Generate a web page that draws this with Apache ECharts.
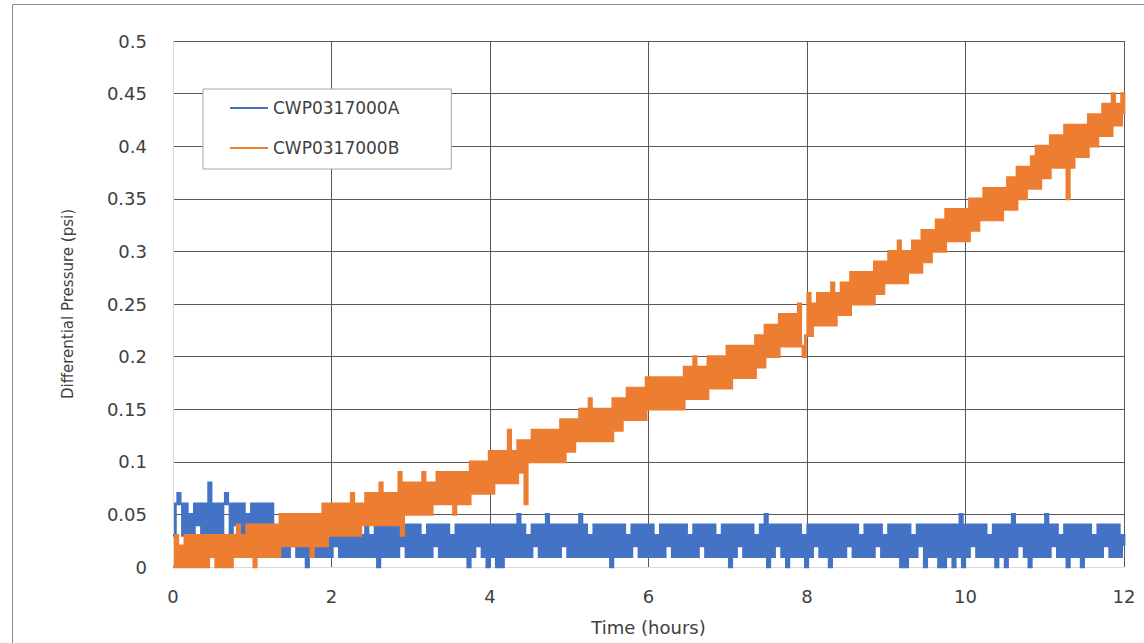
<!DOCTYPE html>
<html>
<head>
<meta charset="utf-8">
<script src="https://cdn.jsdelivr.net/npm/echarts@6/dist/echarts.min.js"></script>
<style>
html,body{margin:0;padding:0;background:#fff;}
#chart{width:1144px;height:643px;}
</style>
</head>
<body>
<div id="chart"></div>
<script>
// ---- data ----
const seriesNames = ['CWP0317000A', 'CWP0317000B'];
const sampleIntervalHours = 0.03;   // one reading every 1.8 min, 0..12 h
const xTicks = [0, 2, 4, 6, 8, 10, 12];
const yTicks = [0, 0.05, 0.1, 0.15, 0.2, 0.25, 0.3, 0.35, 0.4, 0.45, 0.5];

// Differential pressure (psi), CWP0317000A  (20 readings per row = 0.6 h)
const valuesA = [
.03,.06,.07,.06,.03,.06,.03,.05,.03,.06,.04,.06,.03,.06,.03,.08,.03,.06,.03,.06,
.03,.06,.07,.06,.03,.06,.04,.06,.03,.06,.03,.05,.03,.06,.03,.06,.04,.06,.03,.06,
.03,.06,.03,.03,.01,.03,.01,.03,.01,.03,.02,.03,.01,.03,.01,.03,0,.03,.01,.03,
.01,.03,.01,.03,.01,.04,.01,.03,.02,.03,.01,.03,.01,.04,.01,.03,.01,.04,.01,.03,
.01,.04,.01,.03,.01,.04,0,.04,.01,.04,.01,.04,.01,.05,.01,.04,.02,.04,.01,.04,
.01,.04,.01,.04,.01,.03,.01,.04,.01,.04,.02,.04,.01,.04,.01,.04,.01,.03,.01,.04,
.01,.04,.01,.04,0,.04,.01,.04,.02,.04,.01,.04,0,.04,.01,.04,0,.04,0,.04,
.01,.04,.01,.04,.01,.05,.01,.04,.01,.03,.01,.04,.02,.04,.01,.04,.01,.05,.01,.04,
.01,.04,.01,.04,.02,.04,.01,.04,.01,.04,.01,.05,.01,.04,.01,.03,.01,.04,.01,.04,
.01,.04,.01,.04,0,.04,.01,.04,.01,.04,.01,.03,.01,.04,.02,.04,.01,.04,.01,.04,
.01,.04,.01,.03,.01,.04,.01,.04,.02,.04,.01,.04,.01,.04,.01,.04,.01,.03,.01,.04,
.01,.04,.02,.04,.01,.04,.01,.04,.01,.03,.01,.04,.01,.04,0,.04,.01,.04,.02,.04,
.01,.04,.01,.04,.01,.03,.01,.04,.01,.05,0,.04,.01,.04,.02,.04,.01,.04,0,.04,
.01,.04,.01,.04,.01,.03,0,.04,.01,.04,.02,.04,.01,.04,.01,.04,0,.04,.01,.04,
.01,.04,.01,.04,.02,.04,.01,.04,.01,.03,.01,.04,.01,.04,.01,.04,.02,.04,.01,.03,
.01,.04,.01,.04,.01,.04,0,.04,0,.04,.01,.03,.01,.04,.02,.04,0,.04,.01,.04,
.01,.04,0,.04,0,.04,.01,.04,0,.04,.01,.05,0,.04,.01,.04,.02,.04,.01,.04,
.01,.04,.01,.03,.01,.04,0,.04,.01,.04,0,.04,.01,.05,.01,.04,.02,.04,.01,.04,
0,.04,.01,.04,.01,.04,.01,.05,.01,.04,.02,.04,.01,.03,.01,.04,0,.04,.01,.04,
.01,.04,0,.04,.01,.04,.01,.03,.01,.04,.01,.04,.02,.04,.01,.04,.01,.04,.01,.03,
.02
];

// Differential pressure (psi), CWP0317000B  (10 readings per row = 0.3 h)
const valuesB = [
0,.03,0,.02,0,.03,0,.03,0,.03,
0,.03,0,.03,0,.03,.01,.03,0,.03,
0,.03,0,.03,0,.03,.01,.04,.01,.03,
.01,.04,.01,.04,0,.04,.01,.04,.01,.04,
.01,.04,.01,.04,.01,.05,.02,.05,.02,.05,
.02,.05,.02,.05,.02,.05,.02,.05,.01,.05,
.02,.05,.02,.06,.02,.06,.03,.06,.03,.06,
.03,.06,.03,.06,.03,.07,.03,.06,.03,.06,
.04,.07,.04,.07,.04,.07,.04,.08,.04,.07,
.04,.07,.04,.07,.04,.09,.03,.08,.05,.08,
.05,.08,.05,.08,.05,.09,.05,.08,.05,.08,
.06,.09,.06,.09,.06,.09,.06,.09,.05,.09,
.06,.09,.06,.09,.06,.1,.07,.1,.07,.1,
.07,.1,.07,.11,.07,.11,.08,.11,.08,.11,
.08,.13,.08,.11,.08,.12,.09,.12,.06,.12,
.1,.13,.1,.13,.1,.13,.1,.13,.1,.13,
.1,.13,.1,.14,.1,.14,.11,.14,.11,.14,
.12,.15,.12,.15,.12,.16,.12,.15,.12,.15,
.12,.15,.12,.15,.12,.16,.13,.16,.13,.16,
.14,.17,.14,.17,.14,.17,.14,.17,.14,.18,
.15,.18,.15,.18,.15,.18,.15,.18,.15,.18,
.15,.18,.15,.18,.15,.19,.16,.19,.16,.2,
.16,.19,.16,.19,.16,.2,.17,.2,.17,.2,
.17,.2,.17,.21,.17,.21,.18,.21,.18,.21,
.18,.21,.18,.21,.18,.22,.19,.22,.19,.23,
.2,.23,.2,.23,.2,.24,.21,.24,.21,.24,
.21,.24,.21,.25,.21,.2,.22,.26,.22,.25,
.23,.26,.23,.26,.23,.26,.23,.27,.23,.26,
.24,.27,.24,.27,.24,.28,.25,.28,.25,.28,
.25,.28,.25,.28,.25,.29,.26,.29,.26,.29,
.27,.3,.27,.3,.27,.31,.27,.3,.27,.3,
.28,.31,.28,.31,.28,.32,.29,.32,.29,.32,
.3,.33,.3,.33,.3,.34,.31,.34,.31,.34,
.31,.34,.31,.34,.31,.35,.32,.35,.32,.35,
.33,.36,.33,.36,.33,.36,.33,.36,.33,.36,
.34,.37,.34,.37,.34,.38,.35,.38,.35,.38,
.36,.39,.36,.4,.36,.4,.37,.4,.37,.41,
.38,.41,.38,.41,.38,.42,.35,.42,.38,.42,
.39,.42,.39,.42,.39,.43,.4,.43,.4,.43,
.41,.44,.41,.44,.41,.45,.42,.44,.42,.45,
.43
];

// ---- build series data ----
function toPairs(vals) {
  return vals.map((v, i) => [+(i * sampleIntervalHours).toFixed(3), v]);
}

const FONT = 'DejaVu Sans';
const TXT = '#404040';
const GRID = '#595959';

const chart = echarts.init(document.getElementById('chart'), null, {renderer: 'svg'});
chart.setOption({
  animation: false,
  backgroundColor: '#ffffff',
  graphic: [{
    type: 'rect',
    shape: {x: 12.5, y: 4.5, width: 1200, height: 700},
    style: {fill: 'none', stroke: '#8c8c8c', lineWidth: 1},
    silent: true, z: -10
  }],
  grid: {left: 173, right: 20, top: 41, bottom: 76, containLabel: false},
  legend: {
    orient: 'vertical',
    left: 203, top: 89,
    data: seriesNames,
    icon: 'rect',
    backgroundColor: '#ffffff',
    borderColor: '#a6a6a6',
    borderWidth: 1,
    padding: [9, 52, 11, 27],
    itemGap: 20,
    itemWidth: 38,
    itemHeight: 2,
    textStyle: {fontFamily: FONT, fontSize: 17, color: TXT, lineHeight: 20},
    z: 10
  },
  xAxis: {
    type: 'value',
    min: xTicks[0], max: xTicks[xTicks.length - 1], interval: 2,
    name: 'Time (hours)',
    nameLocation: 'middle',
    nameGap: 51,
    nameTextStyle: {fontFamily: FONT, fontSize: 18, color: TXT},
    axisLine: {show: true, lineStyle: {color: '#d9d9d9', width: 1}},
    axisTick: {show: false},
    axisLabel: {fontFamily: FONT, fontSize: 18, color: TXT, margin: 20},
    splitLine: {show: true, lineStyle: {color: GRID, width: 1}}
  },
  yAxis: {
    type: 'value',
    min: yTicks[0], max: yTicks[yTicks.length - 1], interval: 0.05,
    name: 'Differential Pressure (psi)',
    nameLocation: 'middle',
    nameRotate: 90,
    nameGap: 98,
    nameTextStyle: {fontFamily: FONT, fontSize: 15, color: TXT},
    axisLine: {show: true, lineStyle: {color: '#d9d9d9', width: 1}},
    axisTick: {show: false},
    axisLabel: {fontFamily: FONT, fontSize: 18, color: TXT, margin: 26},
    splitLine: {show: true, lineStyle: {color: GRID, width: 1}}
  },
  series: [
    {
      name: seriesNames[0], type: 'line', data: toPairs(valuesA),
      step: 'end', smooth: false,
      symbol: 'none', showSymbol: false,
      lineStyle: {color: '#4472C4', width: 2.8, join: 'miter', cap: 'butt'},
      itemStyle: {color: '#4472C4'},
      z: 2
    },
    {
      name: seriesNames[1], type: 'line', data: toPairs(valuesB),
      step: 'end', smooth: false,
      symbol: 'none', showSymbol: false,
      lineStyle: {color: '#ED7D31', width: 2.8, join: 'miter', cap: 'butt'},
      itemStyle: {color: '#ED7D31'},
      z: 3
    }
  ]
});
</script>
</body>
</html>
